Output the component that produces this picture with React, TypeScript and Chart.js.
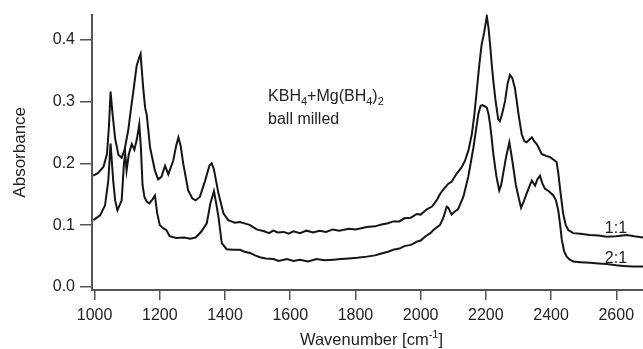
import React, { useEffect, useRef } from "react";
import { Chart, registerables } from "chart.js";

Chart.register(...registerables);

// Series "1:1" (upper trace)
const wavenumber11 = [
  996, 1010, 1027, 1038, 1044, 1049, 1055, 1063, 1073, 1083, 1092, 1103, 1112, 1119, 1129, 1136, 1141,
  1149, 1155, 1160, 1170, 1185, 1195, 1205, 1216, 1226, 1241, 1250, 1257, 1264, 1272, 1287, 1300, 1310,
  1323, 1339, 1352, 1359, 1366, 1380, 1395, 1410, 1430, 1446, 1465, 1477, 1497, 1520, 1535, 1548, 1562,
  1580, 1595, 1610, 1630, 1650, 1670, 1690, 1710, 1731, 1750, 1780, 1800, 1835, 1860, 1880, 1900, 1916,
  1935, 1950, 1970, 1988, 2000, 2020, 2035, 2049, 2059, 2070, 2085, 2095, 2110,
  2125, 2136, 2147, 2157, 2165, 2172, 2180, 2187, 2195, 2203, 2208, 2213, 2218, 2223, 2230, 2238, 2243,
  2250, 2259, 2267, 2274, 2281, 2289, 2295, 2300, 2310, 2318, 2325, 2333, 2341, 2348, 2356, 2365, 2371,
  2385, 2397, 2410, 2417, 2422, 2427, 2432, 2437, 2445, 2453, 2468, 2490, 2519, 2545, 2571, 2600, 2632,
  2655, 2682,
];
const absorbance11 = [
  0.180, 0.184, 0.194, 0.215, 0.260, 0.316, 0.280, 0.240, 0.214, 0.209, 0.222, 0.253, 0.290, 0.317, 0.358,
  0.370, 0.377, 0.322, 0.290, 0.278, 0.226, 0.188, 0.174, 0.178, 0.196, 0.182, 0.204, 0.228, 0.242, 0.228,
  0.199, 0.156, 0.143, 0.140, 0.146, 0.172, 0.196, 0.200, 0.190, 0.151, 0.119, 0.108, 0.104, 0.105, 0.102,
  0.100, 0.093, 0.090, 0.087, 0.091, 0.088, 0.089, 0.086, 0.090, 0.087, 0.091, 0.088, 0.091, 0.089, 0.093,
  0.091, 0.094, 0.093, 0.097, 0.098, 0.101, 0.103, 0.106, 0.106, 0.111, 0.112, 0.118, 0.117, 0.126, 0.130,
  0.140, 0.150, 0.158, 0.167, 0.170, 0.183,
  0.193, 0.204, 0.222, 0.247, 0.280, 0.317, 0.360,
  0.392, 0.412, 0.438, 0.420, 0.392, 0.360, 0.333, 0.300, 0.271, 0.268, 0.280, 0.301, 0.330, 0.343, 0.338,
  0.322, 0.300, 0.280, 0.247, 0.236, 0.234, 0.238, 0.242, 0.236, 0.231, 0.222, 0.215, 0.212, 0.210, 0.205,
  0.202, 0.185, 0.162, 0.140, 0.119, 0.100, 0.092, 0.087, 0.086, 0.084, 0.083, 0.081, 0.082, 0.084, 0.082,
  0.080,
];

// Series "2:1" (lower trace)
const wavenumber21 = [
  996, 1017, 1032, 1042, 1049, 1057, 1063, 1070, 1083, 1090, 1094, 1098, 1105, 1114, 1122, 1130, 1137,
  1142, 1147, 1153, 1160, 1168, 1178, 1185, 1192, 1200, 1210, 1220, 1230, 1250, 1275, 1293, 1310, 1328,
  1344, 1355, 1366, 1373, 1380, 1390, 1405, 1425, 1446, 1460, 1477, 1492, 1507, 1525, 1548, 1565, 1590,
  1610, 1630, 1655, 1680, 1705, 1732, 1755, 1780, 1805, 1835, 1860, 1880, 1900, 1916, 1935, 1950, 1970,
  1988, 2000, 2015, 2030, 2039, 2059, 2069, 2080, 2085, 2095, 2105, 2115, 2131, 2146, 2155,
  2162, 2170, 2177, 2184, 2190, 2197, 2203, 2208, 2213, 2218, 2223, 2232, 2241, 2247, 2253, 2262, 2272,
  2278, 2284, 2292, 2300, 2308, 2316, 2325, 2333, 2341, 2346, 2351, 2358, 2366, 2373, 2381, 2395, 2407,
  2415, 2422, 2428, 2433, 2440, 2448, 2458, 2468, 2490, 2519, 2545, 2571, 2600, 2622, 2650, 2682,
];
const absorbance21 = [
  0.108, 0.116, 0.132, 0.172, 0.232, 0.172, 0.140, 0.124, 0.140, 0.200, 0.215, 0.188, 0.215, 0.231, 0.222,
  0.240, 0.263, 0.225, 0.165, 0.145, 0.138, 0.135, 0.142, 0.148, 0.119, 0.100, 0.095, 0.092, 0.082, 0.079,
  0.080, 0.078, 0.080, 0.090, 0.103, 0.135, 0.155, 0.135, 0.113, 0.071, 0.061, 0.060, 0.060, 0.057, 0.055,
  0.051, 0.048, 0.046, 0.045, 0.042, 0.045, 0.042, 0.044, 0.041, 0.045, 0.043, 0.044, 0.045, 0.046, 0.047,
  0.049, 0.051, 0.054, 0.057, 0.060, 0.062, 0.066, 0.068, 0.073, 0.075, 0.082, 0.087, 0.092, 0.100, 0.111,
  0.130, 0.128, 0.117, 0.122, 0.126, 0.146, 0.178, 0.205, 0.226, 0.255, 0.280, 0.293, 0.294, 0.292, 0.290,
  0.280, 0.263, 0.240, 0.215, 0.180, 0.156, 0.165, 0.183, 0.210, 0.234, 0.215, 0.194, 0.165, 0.146, 0.128,
  0.138, 0.151, 0.162, 0.172, 0.168, 0.164, 0.174, 0.180, 0.168, 0.159, 0.154, 0.148, 0.140, 0.124, 0.100,
  0.076, 0.058, 0.049, 0.044, 0.041, 0.040, 0.039, 0.038, 0.037, 0.035, 0.034, 0.033, 0.033,
];

const xTicks = [1000, 1200, 1400, 1600, 1800, 2000, 2200, 2400, 2600];
const yTicks = [0.0, 0.1, 0.2, 0.3, 0.4];
const seriesLabels = ["1:1", "2:1"];
const seriesLabelPos = [
  [2565, 0.087],
  [2565, 0.039],
];

const FONT = "'Liberation Sans', Arial, Helvetica, sans-serif";
const TEXT = "#222";

type Part = { t: string; k?: "sub" | "sup" };

function drawParts(ctx: CanvasRenderingContext2D, parts: Part[], x: number, y: number, size: number, align: "left" | "center") {
  const small = Math.round(size * 0.68);
  const widths = parts.map((p) => {
    ctx.font = `${p.k ? small : size}px ${FONT}`;
    return ctx.measureText(p.t).width;
  });
  const total = widths.reduce((a, b) => a + b, 0);
  let cx = align === "center" ? x - total / 2 : x;
  parts.forEach((p, i) => {
    ctx.font = `${p.k ? small : size}px ${FONT}`;
    const dy = p.k === "sub" ? size * 0.28 : p.k === "sup" ? -size * 0.42 : 0;
    ctx.fillText(p.t, cx, y + dy);
    cx += widths[i];
  });
}

const textPlugin = {
  id: "textPlugin",
  afterDraw(chart: any) {
    const { ctx, chartArea, scales } = chart;
    const xs = scales.x;
    const ys = scales.y;
    ctx.save();
    ctx.fillStyle = TEXT;
    ctx.textBaseline = "alphabetic";
    ctx.textAlign = "left";
    // annotation
    const ax = xs.getPixelForValue(1532);
    const ay = ys.getPixelForValue(0.301);
    drawParts(
      ctx,
      [{ t: "KBH" }, { t: "4", k: "sub" }, { t: "+Mg(BH" }, { t: "4", k: "sub" }, { t: ")" }, { t: "2", k: "sub" }],
      ax,
      ay,
      16,
      "left"
    );
    drawParts(ctx, [{ t: "ball milled" }], ax, ay + 23, 16, "left");
    // series labels
    seriesLabels.forEach((lab, i) => {
      const [wx, wy] = seriesLabelPos[i];
      drawParts(ctx, [{ t: lab }], xs.getPixelForValue(wx), ys.getPixelForValue(wy), 16, "left");
    });
    // x title
    const cxm = (chartArea.left + chartArea.right) / 2 + 4;
    drawParts(ctx, [{ t: "Wavenumber [cm" }, { t: "-1", k: "sup" }, { t: "]" }], cxm, 345, 16.5, "center");
    // y title
    ctx.translate(25, (chartArea.top + chartArea.bottom) / 2);
    ctx.rotate(-Math.PI / 2);
    drawParts(ctx, [{ t: "Absorbance" }], 0, 0, 17, "center");
    ctx.restore();
  },
};

export default function App() {
  const ref = useRef<HTMLCanvasElement | null>(null);
  useEffect(() => {
    if (!ref.current) return;
    const mk = (xs: number[], ys: number[]) => xs.map((x, i) => ({ x, y: ys[i] }));
    const chart = new Chart(ref.current, {
      type: "line",
      data: {
        datasets: [
          {
            label: seriesLabels[0],
            data: mk(wavenumber11, absorbance11),
            borderColor: "#151515",
            borderWidth: 2,
            pointRadius: 0,
            tension: 0,
          },
          {
            label: seriesLabels[1],
            data: mk(wavenumber21, absorbance21),
            borderColor: "#151515",
            borderWidth: 2,
            pointRadius: 0,
            tension: 0,
          },
        ],
      },
      options: {
        animation: false,
        responsive: true,
        maintainAspectRatio: false,
        layout: { padding: { top: 13, right: 0, left: 0, bottom: 0 } },
        plugins: { legend: { display: false }, tooltip: { enabled: false } },
        scales: {
          x: {
            type: "linear",
            min: 992,
            max: 2682,
            afterBuildTicks: (s: any) => {
              s.ticks = xTicks.map((v) => ({ value: v }));
            },
            afterFit: (s: any) => {
              s.height = 59;
            },
            grid: { drawOnChartArea: false, drawTicks: true, tickLength: 10, color: "#555", lineWidth: 1.5 },
            border: { display: true, color: "#555", width: 2 },
            ticks: { font: { family: FONT, size: 16 }, color: TEXT, padding: 6, maxRotation: 0, callback: (v: any) => String(v) },
          },
          y: {
            type: "linear",
            min: -0.005,
            max: 0.4406,
            afterBuildTicks: (s: any) => {
              s.ticks = yTicks.map((v) => ({ value: v }));
            },
            afterFit: (s: any) => {
              s.width = 92;
            },
            grid: { drawOnChartArea: false, drawTicks: true, tickLength: 12, color: "#555", lineWidth: 1.5 },
            border: { display: true, color: "#555", width: 2 },
            ticks: { font: { family: FONT, size: 16 }, color: TEXT, padding: 5, callback: (v: any) => Number(v).toFixed(1) },
          },
        },
      },
      plugins: [textPlugin],
    });
    return () => chart.destroy();
  }, []);
  return (
    <div style={{ position: "absolute", left: 0, top: 0, width: 643, height: 349 }}>
      <canvas ref={ref} />
    </div>
  );
}
